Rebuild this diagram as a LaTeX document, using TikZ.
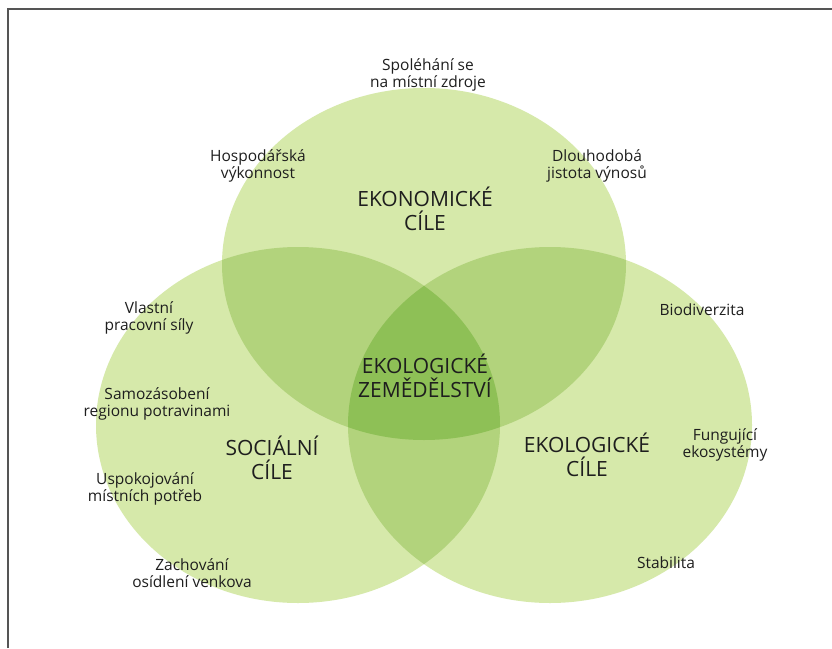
\documentclass[tikz,border=0pt]{standalone}
\usepackage{fontspec}
\setmainfont{Open Sans}
\definecolor{cone}{RGB}{214,233,170}
\definecolor{ctwo}{RGB}{178,211,124}
\definecolor{cthree}{RGB}{142,192,86}
\definecolor{txt}{RGB}{30,30,30}
\definecolor{frame}{RGB}{85,85,85}
\tikzset{
  small/.style={font=\fontsize{15.5}{16.5}\selectfont, text=txt, align=center, inner sep=0pt},
  big/.style={font=\fontsize{21}{24}\selectfont, text=txt, align=center, inner sep=0pt},
  topell/.style={},
}
\begin{document}
\begin{tikzpicture}[x=1pt,y=-1pt]
\useasboundingbox (0,0) rectangle (832,648);
\fill[white] (0,0) rectangle (832,648);
% circles
\def\topE{(424,264) ellipse [x radius=202pt, y radius=176pt]}
\def\leftE{(298,425) ellipse [x radius=202pt, y radius=178pt]}
\def\rightE{(550,425) ellipse [x radius=202pt, y radius=178pt]}
\fill[cone] \topE;
\fill[cone] \leftE;
\fill[cone] \rightE;
\begin{scope}
  \clip \topE;
  \fill[ctwo] \leftE;
  \fill[ctwo] \rightE;
\end{scope}
\begin{scope}
  \clip \leftE;
  \fill[ctwo] \rightE;
\end{scope}
\begin{scope}
  \clip \topE;
  \clip \leftE;
  \fill[cthree] \rightE;
\end{scope}
% frame
\draw[frame, line width=1.6pt] (8,648) -- (8,9) -- (832,9);
% labels
\node[small] (spol) at (428,75) {Spoléhání se\\na místní zdroje};
\node[small] (hosp) at (258,166) {Hospodářská\\výkonnost};
\node[small] (dlou) at (597,166) {Dlouhodobá\\jistota výnosů};
\node[big] (ekon) at (425,209) {EKONOMICKÉ\\CÍLE};
\node[small] (vlas) at (149,318) {Vlastní\\pracovní síly};
\node[small] (samo) at (157,404) {Samozásobení\\regionu potravinami};
\node[small] (uspo) at (145,489) {Uspokojování\\místních potřeb};
\node[small] (zach) at (192,573) {Zachování\\osídlení venkova};
\node[big] (soci) at (272,458) {SOCIÁLNÍ\\CÍLE};
\node[big] (ekze) at (425,376) {EKOLOGICKÉ\\ZEMĚDĚLSTVÍ};
\node[big] (ekoc) at (587,455) {EKOLOGICKÉ\\CÍLE};
\node[small] (biod) at (702,310) {Biodiverzita};
\node[small] (fung) at (725,445) {Fungující\\ekosystémy};
\node[small] (stab) at (666,563) {Stabilita};
\end{tikzpicture}
\end{document}
